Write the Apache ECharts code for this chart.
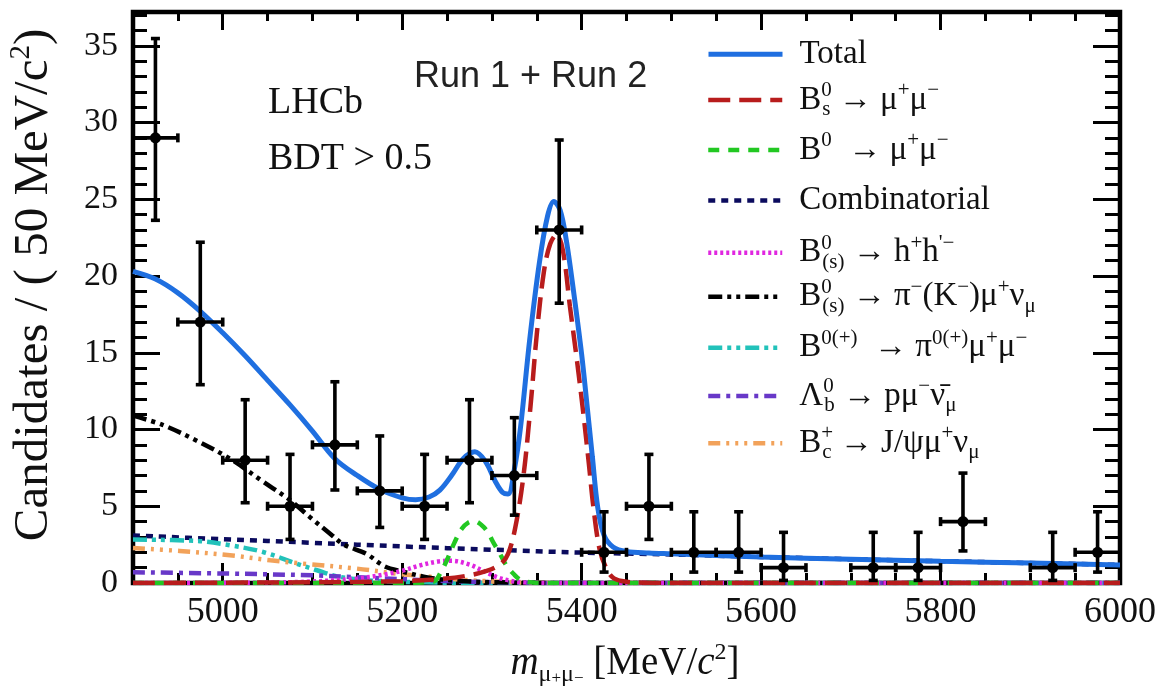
<!DOCTYPE html>
<html><head><meta charset="utf-8">
<script src="https://cdn.jsdelivr.net/npm/echarts@6/dist/echarts.min.js"></script>
<style>html,body{margin:0;padding:0;background:#fff}#c{width:1165px;height:692px}</style>
</head><body><div id="c"></div>
<script>
// ---------- data points (50 MeV bins) ----------
const pointMass   = [4925,4975,5025,5075,5125,5175,5225,5275,5325,5375,5425,5475,5525,5575,5625,5725,5775,5825,5925,5975];
const pointCounts = [29,17,8,5,9,6,5,8,7,23,2,5,2,2,1,1,1,4,1,2];
const errLow      = [5.37,4.08,2.77,2.16,2.94,2.38,2.16,2.77,2.58,4.77,1.29,2.16,1.29,1.29,0.83,0.83,0.83,1.91,0.83,1.29];
const errHigh     = [6.47,5.20,3.94,3.38,4.11,3.58,3.38,3.94,3.77,5.86,2.64,3.38,2.64,2.64,2.30,2.30,2.30,3.16,2.30,2.64];
const binWidth = 50;

// ---------- fit curves ----------
const totalMass = [4900,4925,4950,4975,5000,5025,5050,5075,5100,5125,5150,5175,5200,5215,5230,5242,5255,5268,5281,5293,5304,5312,5318,5325,5332,5342,5353,5362,5369,5376,5383,5391,5400,5406,5412,5418,5425,5435,5450,5475,5500,5600,5700,5800,5900,6000];
const totalVal  = [20.3,19.8,18.9,17.7,16.3,14.8,13.2,11.6,9.9,8.1,7.0,6.1,5.55,5.42,5.6,6.05,7.0,8.1,8.55,7.9,6.6,5.9,5.8,7.4,10.2,15.8,20.9,23.9,24.85,24.3,22.3,19.0,14.9,11.6,8.2,4.9,3.1,2.35,2.05,1.95,1.9,1.7,1.55,1.42,1.3,1.18];

const bsMass = [4900,5000,5100,5200,5240,5270,5295,5310,5318,5326,5335,5343,5350,5358,5365,5372,5379,5387,5395,5402,5408,5413,5420,5428,5436,5450,5470,5500,5600,5700,5800,5900,6000];
const bsVal  = [0,0.02,0.05,0.12,0.25,0.45,0.8,1.25,1.9,3.6,6.9,11.5,16.2,20.3,22.1,22.7,21.7,18.0,14.4,11.0,7.8,5.0,2.2,0.9,0.3,0.08,0.02,0,0,0,0,0,0];

const b0Mass = [4900,5000,5100,5200,5235,5243,5250,5258,5266,5274,5281,5288,5295,5302,5309,5316,5324,5332,5345,5360,5500,5700,5900,6000];
const b0Val  = [0,0,0,0,0.1,0.7,1.5,2.6,3.5,3.95,4.02,3.8,3.35,2.6,1.9,1.15,0.6,0.2,0.03,0,0,0,0,0];

const combMass = [4900,5000,5100,5200,5300,5400,5500,5600,5700,5800,5900,6000];
const combVal  = [3.1,2.85,2.62,2.38,2.17,1.98,1.86,1.7,1.55,1.42,1.3,1.18];

const hhMass = [4900,5000,5050,5100,5150,5180,5200,5220,5240,5255,5275,5290,5305,5320,5335,5350,5400,5500,6000];
const hhVal  = [0,0.01,0.03,0.1,0.3,0.55,0.8,1.15,1.4,1.45,1.2,0.8,0.4,0.15,0.05,0.01,0,0,0];

const pimunuMass = [4900,4933,4970,5008,5045,5075,5097,5120,5135,5160,5180,5200,5230,5260,5300,5350,5400,6000];
const pimunuVal  = [10.9,10.3,9.3,8.1,6.6,5.4,4.3,3.2,2.5,1.9,1.1,0.75,0.35,0.15,0.05,0.01,0,0];

const pimumuMass = [4900,4971,5008,5045,5082,5105,5127,5156,5200,5250,5300,6000];
const pimumuVal  = [2.83,2.74,2.46,2.02,1.27,0.83,0.44,0.2,0.08,0.02,0,0];

const lbMass = [4900,5000,5100,5150,5200,5250,5300,5350,5400,6000];
const lbVal  = [0.7,0.62,0.5,0.38,0.25,0.13,0.05,0.01,0,0];

const bcMass = [4900,4952,5008,5053,5097,5149,5194,5231,5270,5310,5350,5400,6000];
const bcVal  = [2.28,2.09,1.81,1.48,1.22,0.94,0.61,0.4,0.2,0.08,0.02,0,0];

// ---------- ticks ----------
const xMajorTicks = [5000,5200,5400,5600,5800,6000];
const yMajorTicks = [0,5,10,15,20,25,30,35];
const xMinorTicks = []; for (let v = 4950; v < 6000; v += 50) xMinorTicks.push(v);
const yMinorTicks = []; for (let v = 1; v <= 37; v += 1) yMinorTicks.push(v);
const X_MIN = 4900, X_MAX = 6000, Y_MIN = 0, Y_MAX = 37.2;

const SERIF = 'Liberation Serif';

const legendNames = ['Total','Bs','B0','Comb','hh','pimunu','pimumu','Lb','Bc'];
const legendText = {
  'Total':  '{g| }{n|Total}',
  'Bs':     '{g| }{n|B}{pz|0}{b|s}{n| → μ}{p|+}{n|μ}{p|−}',
  'B0':     '{g| }{n|B}{p|0}{n|  → μ}{p|+}{n|μ}{p|−}',
  'Comb':   '{g| }{n|Combinatorial}',
  'hh':     '{g| }{n|B}{pz|0}{b|(s)}{n| → h}{p|+}{n|h}{p|\'−}',
  'pimunu': '{g| }{n|B}{pz|0}{b|(s)}{n| → π}{p|−}{n|(K}{p|−}{n|)μ}{p|+}{n|ν}{b|μ}',
  'pimumu': '{g| }{n|B}{p|0(+)}{n|  → π}{p|0(+)}{n|μ}{p|+}{n|μ}{p|−}',
  'Lb':     '{g| }{n|Λ}{pz|0}{b|b}{n| → pμ}{p|−}{n|ν̄}{b|μ}',
  'Bc':     '{g| }{n|B}{pz|+}{b|c}{n| → J/ψμ}{p|+}{n|ν}{b|μ}'
};
const legendCenters = [51.7,100,149,198,246.7,295.7,345.7,394,442.3];
const legendShift   = [6,0,1,6,6,1,2,2,1];
const legendWidth   = [5,4.5,4.5,4.5,4.5,4.5,4.5,4.5,4.5];

const rich = {
  n:  {fontFamily: SERIF, fontSize: 33, color: '#111', lineHeight: 40},
  p:  {fontFamily: SERIF, fontSize: 21, color: '#111', lineHeight: 22, verticalAlign: 'top'},
  pz: {fontFamily: SERIF, fontSize: 21, color: '#111', lineHeight: 22, verticalAlign: 'top', width: 1},
  b:  {fontFamily: SERIF, fontSize: 21, color: '#111', lineHeight: 18, verticalAlign: 'bottom'},
  g:  {fontSize: 10, width: 12}
};

function zip(a, b) { return a.map((m, i) => [m, b[i]]); }

function lineSeries(name, mass, val, color, width, type, z) {
  return {
    name: name, type: 'line', data: zip(mass, val), symbol: 'none', showSymbol: false, smooth: 0.35,
    lineStyle: {color: color, width: width, type: type}, itemStyle: {color: color},
    z: z, silent: true
  };
}

const series = [
  lineSeries('Comb',   combMass,   combVal,   '#0b0b5e', 4.5, [7, 6], 3),
  lineSeries('pimumu', pimumuMass, pimumuVal, '#22c2ba', 4.5, [14, 5, 4, 5, 4, 5], 3),
  lineSeries('Bc',     bcMass,     bcVal,     '#f2a25a', 4.5, [12, 6, 3, 6, 3, 6, 3, 6], 3),
  lineSeries('Lb',     lbMass,     lbVal,     '#6838c8', 4.5, [12, 6, 4, 6], 3),
  lineSeries('pimunu', pimunuMass, pimunuVal, '#000000', 4.5, [14, 5, 4, 5, 4, 5], 3),
  lineSeries('hh',     hhMass,     hhVal,     '#e026e0', 4.5, [3, 3], 3),
  lineSeries('B0',     b0Mass,     b0Val,     '#22c822', 4.5, [11, 9], 4),
  lineSeries('Bs',     bsMass,     bsVal,     '#b81c1c', 4.5, [22, 9], 4),
  lineSeries('Total',  totalMass,  totalVal,  '#1f6fe0', 5, 'solid', 5),
  {
    type: 'custom', name: 'Data', z: 10, clip: false,
    data: pointMass.map((m, i) => [m, pointCounts[i], errLow[i], errHigh[i]]),
    renderItem: function (params, api) {
      const x = api.value(0), y = api.value(1), lo = api.value(2), hi = api.value(3);
      const c = api.coord([x, y]);
      const t = api.coord([x, y + hi]);
      const b = api.coord([x, y - lo]);
      const l = api.coord([x - binWidth / 2, y]);
      const r = api.coord([x + binWidth / 2, y]);
      const cap = 4.5;
      const st = {stroke: '#000', lineWidth: 3.6};
      const L = (x1, y1, x2, y2) => ({type: 'line', shape: {x1, y1, x2, y2}, style: st});
      return {type: 'group', children: [
        L(t[0], t[1], b[0], b[1]),
        L(l[0], l[1], r[0], r[1]),
        L(t[0] - cap, t[1], t[0] + cap, t[1]),
        L(b[0] - cap, b[1], b[0] + cap, b[1]),
        L(l[0], l[1] - cap, l[0], l[1] + cap),
        L(r[0], r[1] - cap, r[0], r[1] + cap),
        {type: 'circle', shape: {cx: c[0], cy: c[1], r: 5.5}, style: {fill: '#000'}}
      ]};
    }
  }
];

function xAx(pos, ticks, len) {
  return {
    type: 'value', min: X_MIN, max: X_MAX, position: pos,
    axisLine: {show: false, onZero: false},
    axisTick: {show: true, inside: true, length: len, customValues: ticks, lineStyle: {color: '#000', width: 3}},
    axisLabel: {show: false},
    splitLine: {show: false}
  };
}
function yAx(pos, ticks, len) {
  return {
    type: 'value', min: Y_MIN, max: Y_MAX, position: pos,
    axisLine: {show: false, onZero: false},
    axisTick: {show: true, inside: true, length: len, customValues: ticks, lineStyle: {color: '#000', width: 3}},
    axisLabel: {show: false},
    splitLine: {show: false}
  };
}

const legends = legendNames.map((nm, i) => ({
  data: [nm], left: 706, top: legendCenters[i] - 20 + legendShift[i], orient: 'vertical', padding: 0,
  itemWidth: 74, itemHeight: 14, selectedMode: false,
  itemStyle: {opacity: 0},
  lineStyle: {width: legendWidth[i]},
  formatter: (name) => legendText[name],
  textStyle: {rich: rich, fontFamily: SERIF, fontSize: 33, color: '#111'}
}));

const staticGraphics = [
  {type: 'text', left: 268, top: 84, style: {text: 'LHCb', font: "38px 'Liberation Serif'", fill: '#111'}},
  {type: 'text', left: 268, top: 140, style: {text: 'BDT > 0.5', font: "38px 'Liberation Serif'", fill: '#111'}},
  {type: 'text', left: 414, top: 59, style: {text: 'Run 1 + Run 2', font: "36px 'Liberation Sans'", fill: '#222'}},
  {type: 'text', x: 34, y: 285, rotation: Math.PI / 2,
   style: {text: '{n|Candidates / ( 50 MeV/c}{p|2}{n|)}', align: 'center', verticalAlign: 'middle',
     rich: {n: {fontFamily: SERIF, fontSize: 49, fill: '#111', lineHeight: 54},
            p: {fontFamily: SERIF, fontSize: 29, fill: '#111', lineHeight: 30, verticalAlign: 'top'}}}},
  {type: 'text', x: 625, y: 664,
   style: {text: '{i|m}{s|μ}{ss|+}{s|μ}{ss|−}{n| [MeV/}{i|c}{sp|2}{n|]}', align: 'center', verticalAlign: 'middle',
     rich: {n: {fontFamily: SERIF, fontSize: 39, fill: '#111', lineHeight: 46},
            i: {fontFamily: SERIF, fontSize: 39, fontStyle: 'italic', fill: '#111', lineHeight: 46},
            s: {fontFamily: SERIF, fontSize: 24, fill: '#111', lineHeight: 22, verticalAlign: 'bottom'},
            ss: {fontFamily: SERIF, fontSize: 17, fill: '#111', lineHeight: 32, verticalAlign: 'bottom'},
            sp: {fontFamily: SERIF, fontSize: 24, fill: '#111', lineHeight: 28, verticalAlign: 'top'}}}}
];

const option = {
  animation: false,
  backgroundColor: '#fff',
  textStyle: {fontFamily: SERIF},
  grid: {left: 133, right: 45, top: 12, bottom: 109, show: true, borderColor: '#000', borderWidth: 4.5, backgroundColor: 'transparent'},
  xAxis: [xAx('bottom', xMajorTicks, 20), xAx('bottom', xMinorTicks, 10), xAx('top', xMajorTicks, 18), xAx('top', xMinorTicks, 9)],
  yAxis: [yAx('left', yMajorTicks, 27), yAx('left', yMinorTicks, 14), yAx('right', yMajorTicks, 27), yAx('right', yMinorTicks, 15)],
  legend: legends,
  series: series
};

const chart = echarts.init(document.getElementById('c'), null, {renderer: 'canvas'});
chart.setOption(option);

// tick labels: positioned through the chart's own axis scales
const finder = {xAxisIndex: 0, yAxisIndex: 0};
const xLabelGraphics = xMajorTicks.map(function (v) {
  const p = chart.convertToPixel(finder, [v, Y_MIN]);
  return {type: 'text', x: p[0], y: p[1] + 30, z: 50,
    style: {text: String(v), font: "36px 'Liberation Serif'", fill: '#111', align: 'center', verticalAlign: 'middle'}};
});
const yLabelGraphics = yMajorTicks.map(function (v) {
  const p = chart.convertToPixel(finder, [X_MIN, v]);
  return {type: 'text', x: p[0] - 15, y: p[1], z: 50,
    style: {text: String(v), font: "34px 'Liberation Serif'", fill: '#111', align: 'right', verticalAlign: 'middle'}};
});
chart.setOption({graphic: staticGraphics.concat(xLabelGraphics, yLabelGraphics)});
</script>
</body></html>
